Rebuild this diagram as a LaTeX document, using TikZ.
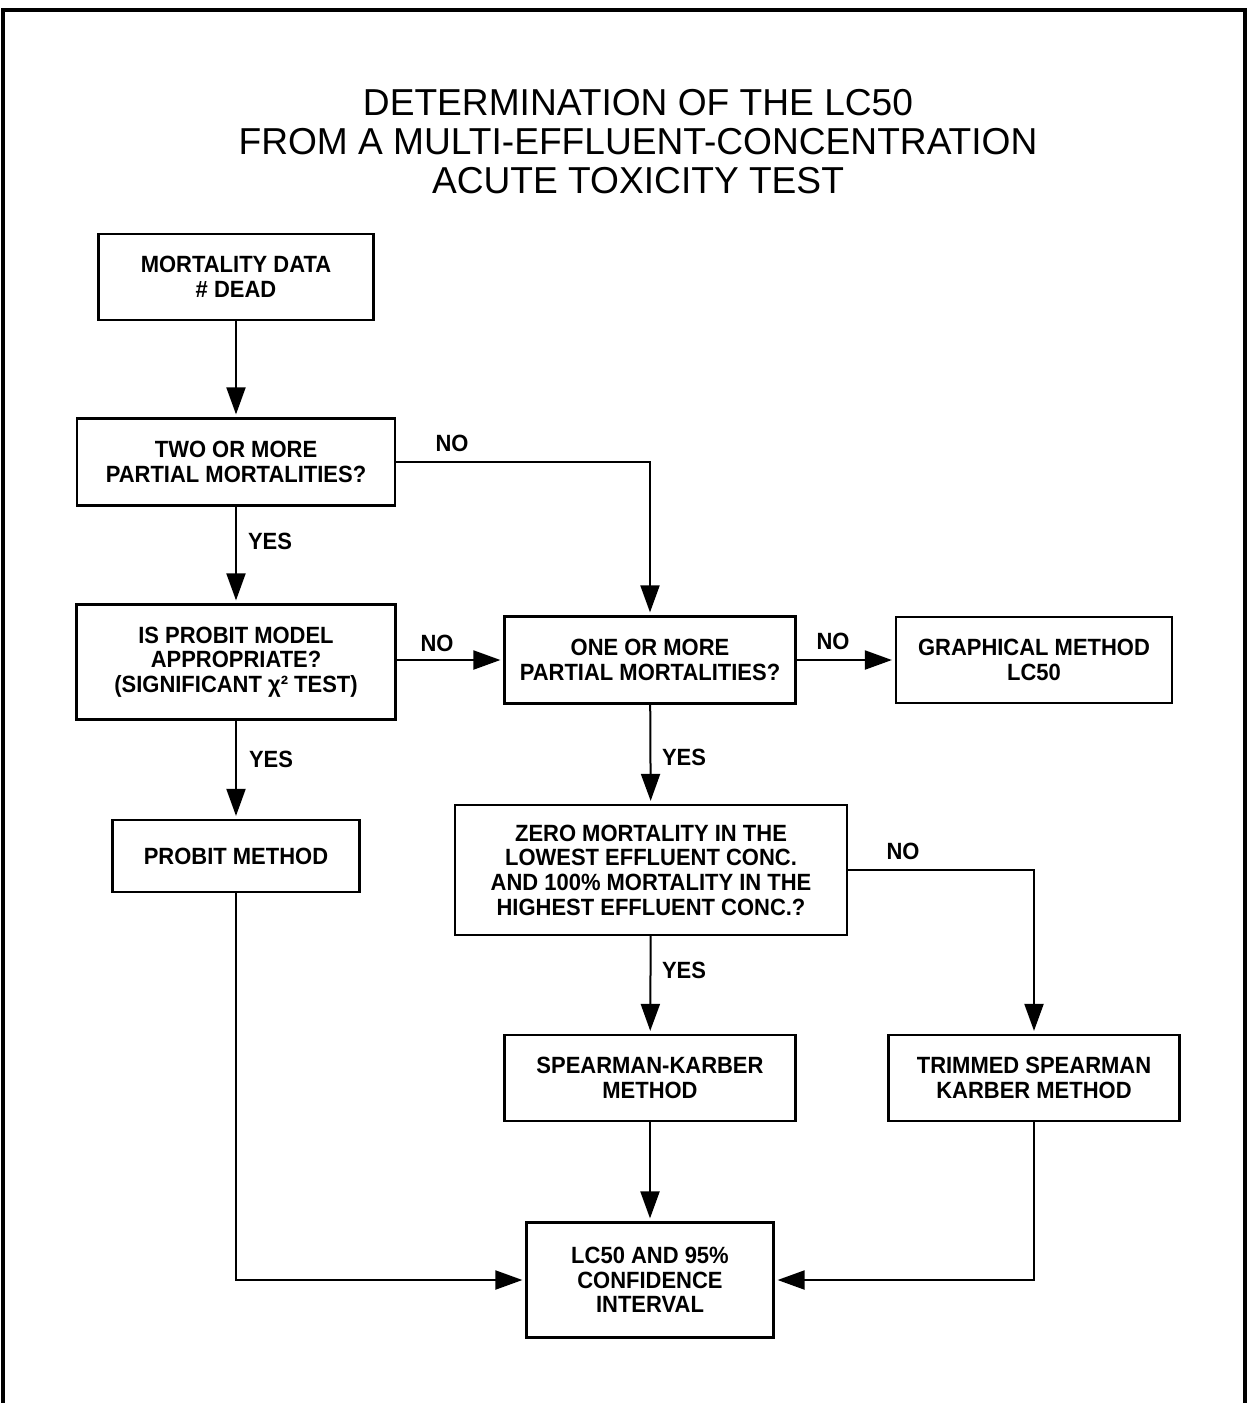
\documentclass[tikz,border=0pt]{standalone}
\usepackage{fontspec}
\setmainfont{Liberation Sans}
\newfontfamily\boxfont[FakeStretch=0.935]{Liberation Sans}
\newfontfamily\titlefont[FakeStretch=0.99]{Liberation Sans}
\usetikzlibrary{arrows.meta}
\tikzset{
  fbox/.style={draw, line width=2.2pt, align=center, inner sep=0pt,
    font=\boxfont\bfseries\fontsize{23.5}{24.7}\selectfont},
  conn/.style={line width=2pt, -{Triangle[length=27pt,width=19pt]}, shorten >=3pt},
  lbl/.style={font=\boxfont\bfseries\fontsize{23.5}{24.7}\selectfont, inner sep=0pt},
  ttl/.style={font=\titlefont\fontsize{37.5}{39}\selectfont, align=center, inner sep=0pt}
}
\begin{document}
\begin{tikzpicture}[x=1pt,y=-1pt]
\useasboundingbox (0,0) rectangle (1248,1403);
\fill[white] (0,0) rectangle (1248,1403);
% frame
\draw[line width=4pt] (3,1403) -- (3,10) -- (1245,10) -- (1245,1403);
% title
\node[ttl] (title) at (638,142) {DETERMINATION OF THE LC50\\FROM A MULTI-EFFLUENT-CONCENTRATION\\ACUTE TOXICITY TEST};
% boxes
\node[fbox, minimum width=275pt, minimum height=86pt] (mort) at (236,277) {MORTALITY DATA\\\# DEAD};
\node[fbox, minimum width=318pt, minimum height=87pt] (two) at (236,462) {TWO OR MORE\\PARTIAL MORTALITIES?};
\node[fbox, minimum width=319pt, minimum height=115pt] (probq) at (236,662) {IS PROBIT MODEL\\APPROPRIATE?\\(SIGNIFICANT χ² TEST)};
\node[fbox, minimum width=247pt, minimum height=72pt] (probm) at (236,856) {PROBIT METHOD};
\node[fbox, minimum width=291pt, minimum height=87pt] (one) at (650,660) {ONE OR MORE\\PARTIAL MORTALITIES?};
\node[fbox, minimum width=276pt, minimum height=86pt] (graph) at (1034,660) {GRAPHICAL METHOD\\LC50};
\node[fbox, minimum width=392pt, minimum height=130pt] (zero) at (651,870) {ZERO MORTALITY IN THE\\LOWEST EFFLUENT CONC.\\AND 100\% MORTALITY IN THE\\HIGHEST EFFLUENT CONC.?};
\node[fbox, minimum width=291pt, minimum height=86pt] (sk) at (650,1078) {SPEARMAN-KARBER\\METHOD};
\node[fbox, minimum width=291pt, minimum height=86pt] (tsk) at (1034,1078) {TRIMMED SPEARMAN\\KARBER METHOD};
\node[fbox, minimum width=247pt, minimum height=115pt] (lc) at (650,1280) {LC50 AND 95\%\\CONFIDENCE\\INTERVAL};
% connectors
\draw[conn] (mort) -- (two);
\draw[conn] (two) -- (probq);
\draw[conn] (two.east) -| (one.north);
\draw[conn] (probq.east |- one) -- (one.west);
\draw[conn] (one) -- (graph);
\draw[conn] (probq) -- (probm);
\draw[conn] (one) -- (zero);
\draw[conn] (zero) -- (sk);
\draw[conn] (zero.east) -| (tsk.north);
\draw[conn] (sk) -- (lc);
\draw[conn] (probm.south) |- (lc.west);
\draw[conn] (tsk.south) |- (lc.east);
% labels
\node[lbl] (l1) at (452,443) {NO};
\node[lbl] (l2) at (270,541) {YES};
\node[lbl] (l3) at (437,643) {NO};
\node[lbl] (l4) at (833,641) {NO};
\node[lbl] (l5) at (271,759) {YES};
\node[lbl] (l6) at (684,757) {YES};
\node[lbl] (l7) at (903,851) {NO};
\node[lbl] (l8) at (684,970) {YES};
\end{tikzpicture}
\end{document}
